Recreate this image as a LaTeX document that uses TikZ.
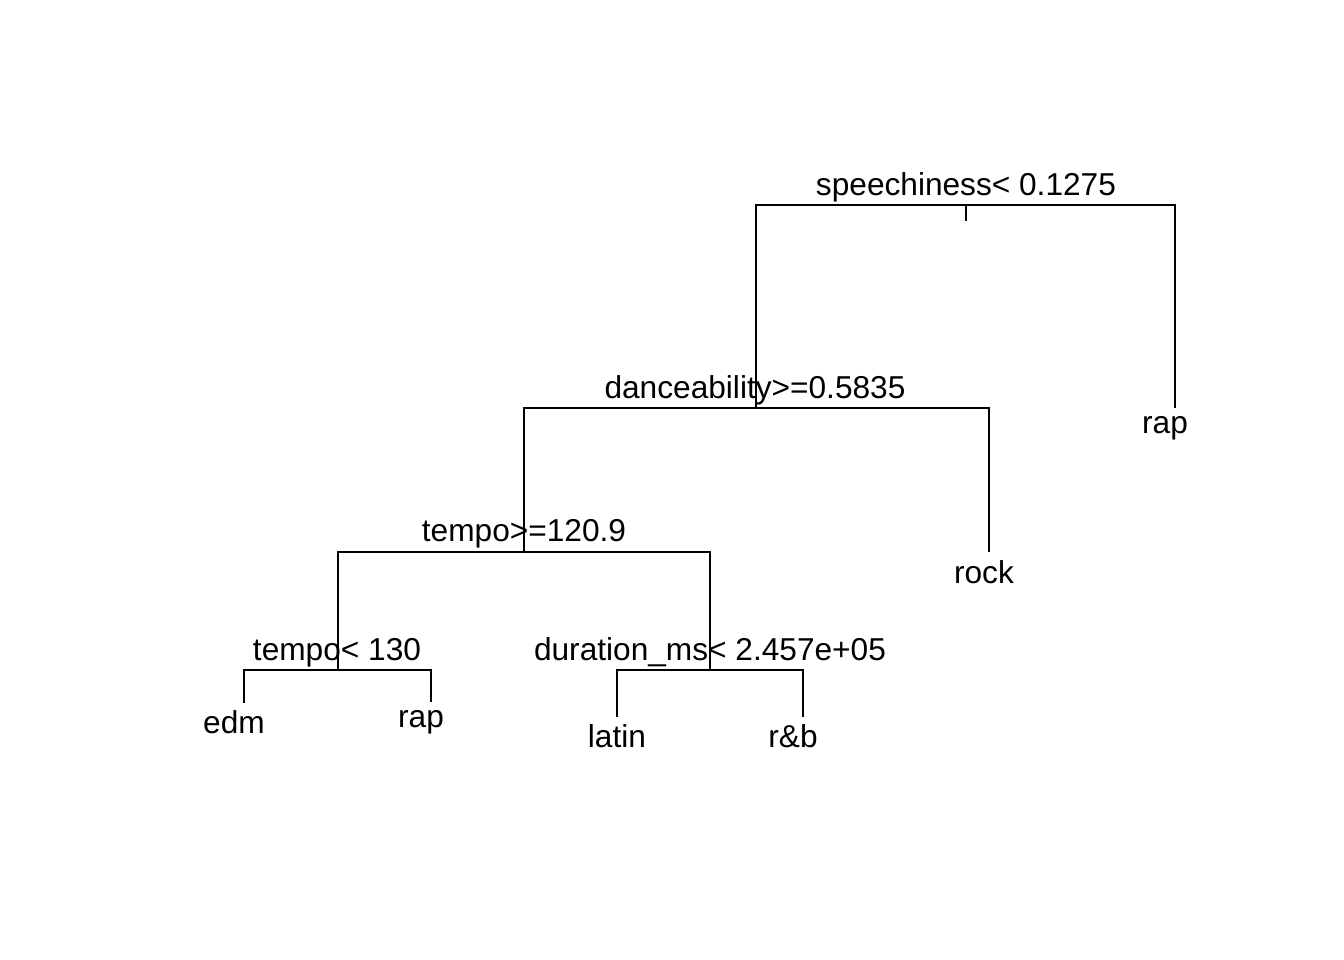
\documentclass[tikz,border=0pt]{standalone}
\usepackage{fontspec}
\setmainfont{Liberation Sans}
\usetikzlibrary{calc}
\begin{document}
\begin{tikzpicture}[x=0.01cm,y=-0.01cm,font=\fontsize{9pt}{11pt}\selectfont,
  lab/.style={anchor=base,inner sep=0pt},
  branch/.style={line width=0.6pt}]
              \useasboundingbox (0,0) rectangle (1344,960);
              \coordinate (n1) at (966,205);
              \coordinate (n2) at (756,408);
              \coordinate (n3) at (1175,408);
              \coordinate (n4) at (524,552);
              \coordinate (n5) at (989,552);
              \coordinate (n8) at (338,670);
              \coordinate (n9) at (710,670);
              \coordinate (n16) at (244,703);
              \coordinate (n17) at (431,702);
              \coordinate (n18) at (617,717);
              \coordinate (n19) at (803,717);
              \foreach \p/\c in {n1/n2,n1/n3,n2/n4,n2/n5,n4/n8,n4/n9,n8/n16,n8/n17,n9/n18,n9/n19}
                \draw[branch] (\p) -| (\c);
              \draw[branch] (n1) -- ++(0,16);
              \node[lab](s1)at(966,195){speechiness< 0.1275};
              \node[lab](s2)at(755,398){danceability>=0.5835};
              \node[lab](s4)at(524,541){tempo>=120.9};
              \node[lab](s8)at(337,660){tempo< 130};
              \node[lab](s9)at(710,660){duration\_ms< 2.457e+05};
              \node[lab](l3)at(1165,433){rap};
              \node[lab](l5)at(984,583){rock};
              \node[lab](l16)at(234,733){edm};
              \node[lab](l17)at(421,727){rap};
              \node[lab](l18)at(617,747){latin};
              \node[lab](l19)at(793,747){r\&b};
            \end{tikzpicture}
\end{document}
